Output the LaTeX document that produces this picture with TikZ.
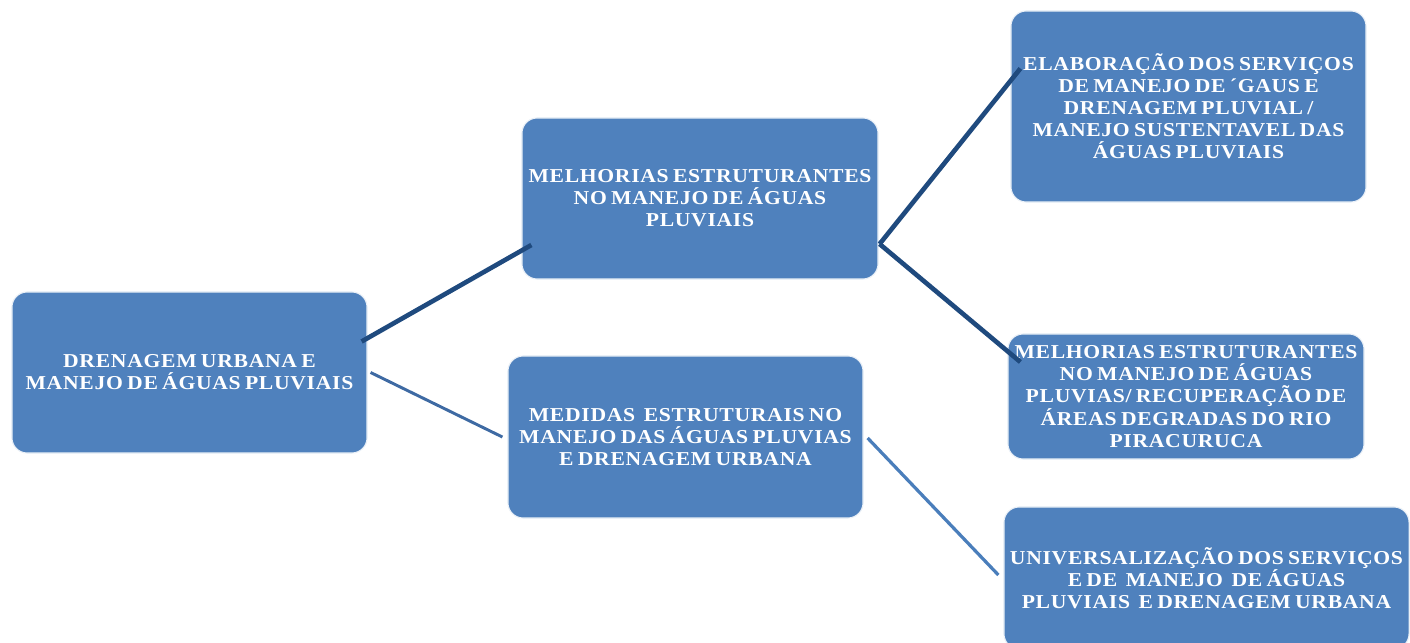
\documentclass[tikz,border=0pt]{standalone}
\usepackage{fontspec}
\setmainfont{Liberation Serif}
\newfontfamily\boxfont[LetterSpace=3.5,FakeStretch=1.1,WordSpace=0.7]{Liberation Serif}
\usetikzlibrary{calc}

\definecolor{boxblue}{RGB}{79,129,189}
\definecolor{linkdark}{RGB}{31,74,126}
\definecolor{linkmid}{RGB}{62,106,163}
\definecolor{linklight}{RGB}{74,126,187}

\begin{document}
\begin{tikzpicture}[x=0.025cm,y=-0.025cm,
    box/.style={rectangle, rounded corners=0.38cm, fill=boxblue, draw=white!88!boxblue,
      line width=0.8pt, text=white, align=center, inner sep=0pt,
      font=\boxfont\fontsize{14}{15.7}\selectfont\bfseries},
    darklink/.style={linkdark, line width=3.3pt},
    midlink/.style={linkmid, line width=2.1pt},
    lightlink/.style={linklight, line width=2.3pt}]
    % page
    \useasboundingbox (0,0) rectangle (1410,643);
    \clip (0,0) rectangle (1410,643);
    % boxes
    \node[box, minimum width=8.875cm, minimum height=4.025cm] (drenagem) at (189.5,372.5)
      {DRENAGEM URBANA E\\MANEJO DE ÁGUAS PLUVIAIS};
    \node[box, minimum width=8.9cm, minimum height=4.025cm] (melhorias) at (700,198.5)
      {MELHORIAS ESTRUTURANTES\\NO MANEJO DE ÁGUAS\\PLUVIAIS};
    \node[box, minimum width=8.875cm, minimum height=4.05cm] (medidas) at (685.5,437)
      {MEDIDAS \ ESTRUTURAIS NO\\MANEJO DAS ÁGUAS PLUVIAS\\E DRENAGEM URBANA};
    \node[box, minimum width=8.875cm, minimum height=4.775cm] (elaboracao) at (1188.5,106.5)
      {ELABORAÇÃO DOS SERVIÇOS\\DE MANEJO DE ´GAUS E\\DRENAGEM PLUVIAL /\\MANEJO SUSTENTAVEL DAS\\ÁGUAS PLUVIAIS};
    \node[box, minimum width=8.9cm, minimum height=3.125cm] (recuperacao) at (1186,396.5)
      {MELHORIAS ESTRUTURANTES\\NO MANEJO DE ÁGUAS\\PLUVIAS/ RECUPERAÇÃO DE\\ÁREAS DEGRADAS DO RIO\\PIRACURUCA};
    \node[box, minimum width=10.125cm, minimum height=3.55cm] (universal) at (1206.5,578)
      {UNIVERSALIZAÇÃO DOS SERVIÇOS\\E DE \ MANEJO \ DE ÁGUAS\\PLUVIAIS \ E DRENAGEM URBANA};
    % links
    \draw[darklink] ($(drenagem.east)+(-6,-31)$) -- ($(melhorias.west)+(10,46.5)$);
    \draw[darklink] ($(melhorias.east)+(1,45.5)$) -- ($(elaboracao.west)+(10,-38)$);
    \draw[darklink] ($(melhorias.east)+(1,45.5)$) -- ($(recuperacao.west)+(13,-34.5)$);
    \draw[midlink] ($(drenagem.east)+(3,0)$) -- ($(medidas.west)+(-5,0)$);
    \draw[lightlink] ($(medidas.east)+(4,1)$) -- ($(universal.west)+(-5,-3)$);
\end{tikzpicture}
\end{document}
